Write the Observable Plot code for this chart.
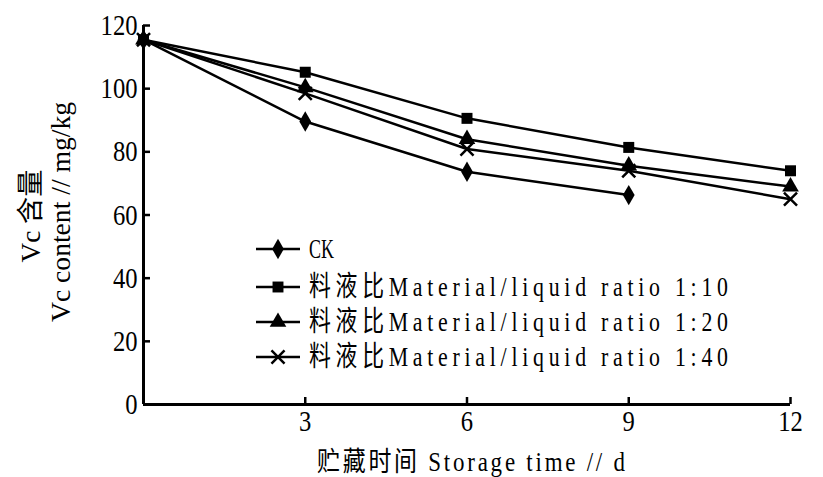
<!DOCTYPE html>
<html><head><meta charset="utf-8">
<script src="https://cdn.jsdelivr.net/npm/d3@7"></script>
<script src="https://cdn.jsdelivr.net/npm/@observablehq/plot@0.6"></script>
<style>
body{margin:0;background:#fff;}
#wrap{position:relative;width:823px;height:477px;overflow:hidden;background:#fff;}
#wrap svg{position:absolute;left:0;top:0;}
</style></head><body><div id="wrap"></div>
<script>
const days = [0, 3, 6, 9, 12];
const seriesNames = ["CK", "料液比Material/liquid ratio 1:10", "料液比Material/liquid ratio 1:20", "料液比Material/liquid ratio 1:40"];
const ckValues = [115.5, 89.6, 73.7, 66.3];
const ratio10Values = [115.5, 105.2, 90.6, 81.4, 74.0];
const ratio20Values = [115.5, 100.4, 84.0, 75.6, 69.0];
const ratio40Values = [115.5, 98.5, 80.9, 74.0, 65.0];
const symbolNames = ["diamond", "square", "triangle", "times"];
const xTicks = [3, 6, 9, 12];
const yTicks = [0, 20, 40, 60, 80, 100, 120];
const xLabel = "贮藏时间 Storage time // d";
const yLabel1 = "Vc 含量";
const yLabel2 = "Vc content // mg/kg";

const allValues = [ckValues, ratio10Values, ratio20Values, ratio40Values];
const data = [];
allValues.forEach((vals, i) => vals.forEach((v, j) => data.push({series: seriesNames[i], day: days[j], vc: v})));

const chart = Plot.plot({
  width: 823, height: 477,
  marginLeft: 143, marginRight: 33, marginTop: 25, marginBottom: 73,
  x: {domain: [0, 12]},
  y: {domain: [0, 120]},
  symbol: {domain: seriesNames, range: symbolNames},
  style: {fontFamily: "'Liberation Serif', 'Noto Sans CJK SC', serif", fontSize: "30px", color: "black", background: "white"},
  marks: [
    Plot.axisX({ticks: xTicks, tickSize: -7, tickFormat: () => "", label: null, strokeWidth: 2.5}),
    Plot.axisX({ticks: xTicks, tickSize: 0, tickPadding: 5, label: null}),
    Plot.axisY({ticks: yTicks, tickSize: -7, tickFormat: () => "", label: null, strokeWidth: 2.5}),
    Plot.axisY({ticks: yTicks, tickSize: 0, tickPadding: 6, label: null}),
    Plot.ruleY([0], {strokeWidth: 3}),
    Plot.ruleX([0], {strokeWidth: 3}),
    Plot.line(data, {x: "day", y: "vc", z: "series", stroke: "black", strokeWidth: 2.5}),
    Plot.dot(data.filter(d => d.series !== seriesNames[3]), {x: "day", y: "vc", symbol: "series", fill: "black", r: 6.2}),
    Plot.dot(data.filter(d => d.series === seriesNames[3]), {x: "day", y: "vc", symbol: "series", stroke: "black", strokeWidth: 2.5, r: 6})
  ]
});
const wrap = document.getElementById("wrap");
wrap.appendChild(chart);

// condense tick labels horizontally
d3.select(chart).selectAll('g[aria-label="x-axis tick label"] text, g[aria-label="y-axis tick label"] text')
  .attr("transform", function() { return (this.getAttribute("transform") || "") + " scale(0.82,1)"; });

// overlay: axis titles and legend
const ov = d3.select(wrap).append("svg").attr("width", 823).attr("height", 477).style("pointer-events", "none");
const serifFam = "'Liberation Serif', 'Noto Sans CJK SC', serif";

ov.append("text").attr("transform", "translate(317,471) scale(0.85,1)").attr("font-family", serifFam).attr("font-size", 27)
  .attr("textLength", 308 / 0.85).attr("lengthAdjust", "spacing").text(xLabel);

ov.append("text").attr("transform", "translate(40,216) rotate(-90)").attr("text-anchor", "middle")
  .attr("font-family", serifFam).attr("font-size", 27)
  .attr("textLength", 93).attr("lengthAdjust", "spacingAndGlyphs").text(yLabel1);
ov.append("text").attr("transform", "translate(70,212) rotate(-90)").attr("text-anchor", "middle")
  .attr("font-family", serifFam).attr("font-size", 27)
  .attr("textLength", 220).attr("lengthAdjust", "spacingAndGlyphs").text(yLabel2);

const legendY = [249, 287, 322, 357];
const symbolTypes = [d3.symbolDiamond, d3.symbolSquare, d3.symbolTriangle, d3.symbolTimes];
seriesNames.forEach((name, i) => {
  const g = ov.append("g").attr("transform", `translate(0,${legendY[i]})`);
  g.append("line").attr("x1", 256).attr("x2", 300).attr("y1", 0).attr("y2", 0).attr("stroke", "black").attr("stroke-width", 2.5);
  const sym = d3.symbol(symbolTypes[i], Math.PI * (i === 3 ? 36 : 38));
  const p = g.append("path").attr("transform", "translate(278,0)").attr("d", sym());
  if (i === 3) p.attr("fill", "none").attr("stroke", "black").attr("stroke-width", 2.5);
  else p.attr("fill", "black");
  g.append("text").attr("transform", "translate(309,9) scale(0.78,1)").attr("font-family", serifFam).attr("font-size", 28)
    .attr("textLength", (i === 0 ? 25 : 419) / 0.78).attr("lengthAdjust", i === 0 ? "spacingAndGlyphs" : "spacing").text(name);
});
</script>
</body></html>
